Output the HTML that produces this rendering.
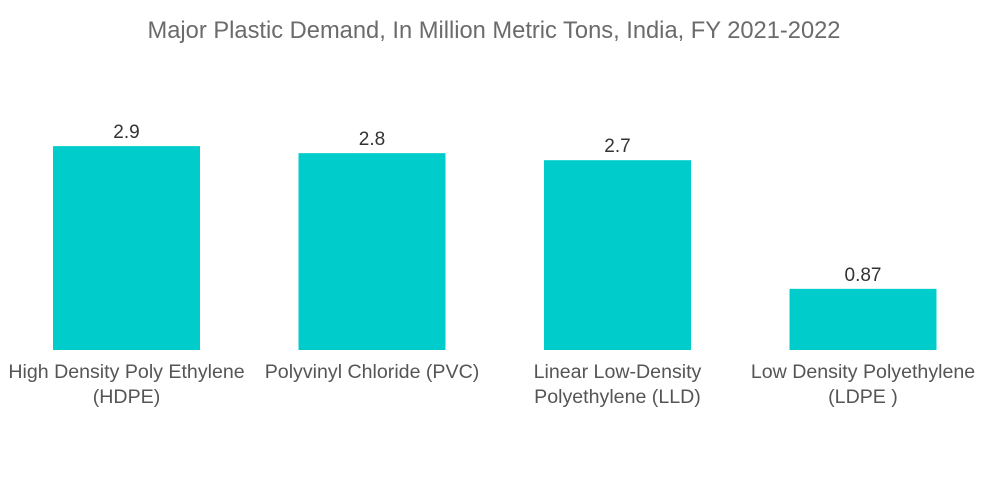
<!DOCTYPE html>
<html><head><meta charset="utf-8"><style>
html,body{margin:0;padding:0;background:#fff;}
svg{display:block;font-family:"Liberation Sans",sans-serif;}
</style></head><body>
<svg id="chart" width="1000" height="504" viewBox="0 0 1000 504">
<text x="494" y="38" text-anchor="middle" font-size="23.7" fill="#6b6b6b">Major Plastic Demand, In Million Metric Tons, India, FY 2021-2022</text>
<g id="bars"></g>
</svg>
<script>
const categories = [["High Density Poly Ethylene","(HDPE)"],["Polyvinyl Chloride (PVC)"],["Linear Low-Density","Polyethylene (LLD)"],["Low Density Polyethylene","(LDPE )"]];
const values = [2.9, 2.8, 2.7, 0.87];
const valueLabels = ["2.9","2.8","2.7","0.87"];

const baseY = 350, pxPerUnit = 70.3, x0 = 126.5, step = 245.5, barW = 147;
const yScale = v => baseY - v * pxPerUnit;
const xCenter = i => x0 + i * step;
const g = document.getElementById('bars');
const NS = 'http://www.w3.org/2000/svg';
values.forEach((v, i) => {
  const cx = xCenter(i);
  const r = document.createElementNS(NS, 'rect');
  r.setAttribute('x', cx - barW / 2);
  r.setAttribute('y', yScale(v));
  r.setAttribute('width', barW);
  r.setAttribute('height', baseY - yScale(v));
  r.setAttribute('fill', '#00cccc');
  
  
  g.appendChild(r);
  const t = document.createElementNS(NS, 'text');
  t.setAttribute('x', cx);
  t.setAttribute('y', yScale(v) - 8);
  t.setAttribute('text-anchor', 'middle');
  t.setAttribute('font-size', '19');
  t.setAttribute('fill', '#333');
  t.textContent = valueLabels[i];
  
  
  g.appendChild(t);
  categories[i].forEach((line, j) => {
    const c = document.createElementNS(NS, 'text');
    c.setAttribute('x', cx);
    c.setAttribute('y', 378 + j * 25);
    c.setAttribute('text-anchor', 'middle');
    c.setAttribute('font-size', '19.6');
    c.setAttribute('fill', '#555');
    c.textContent = line;
    
    
    g.appendChild(c);
  });
});
</script>
</body></html>
